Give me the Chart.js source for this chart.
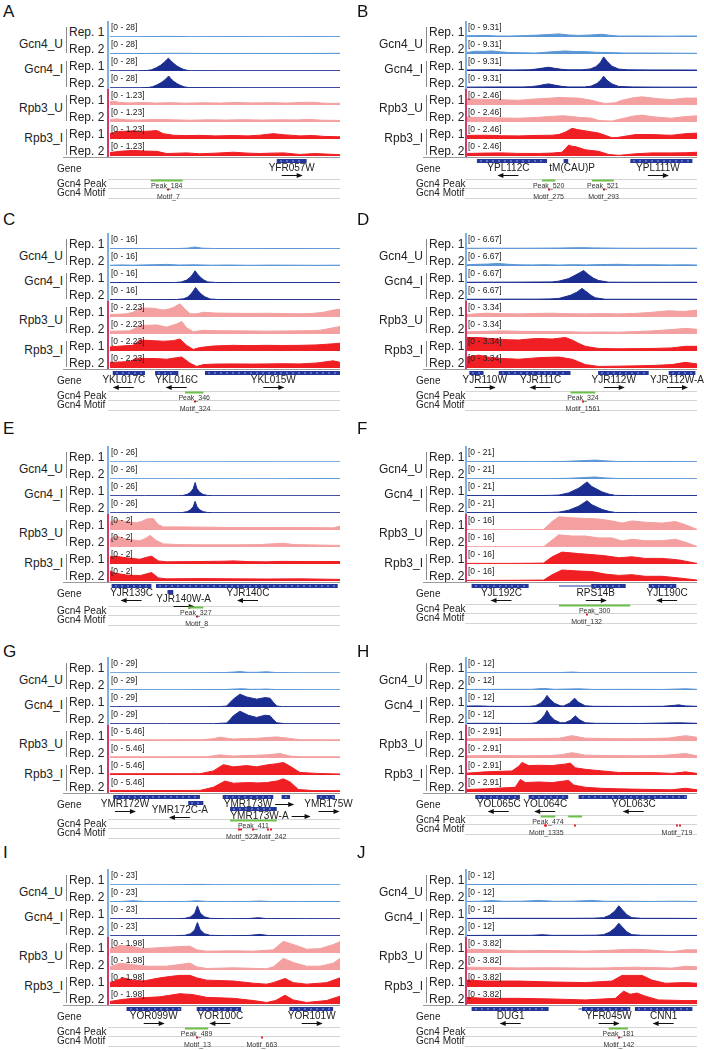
<!DOCTYPE html>
<html>
<head>
<meta charset="utf-8">
<script src="https://cdn.jsdelivr.net/npm/chart.js@4.4.1/dist/chart.umd.min.js"></script>
<style>
  html, body { margin: 0; padding: 0; background: #fff; }
  #page { position: relative; width: 704px; height: 1050px; overflow: hidden;
          font-family: "Liberation Sans", Arial, sans-serif; color: #222; }
  .t { position: absolute; white-space: nowrap; line-height: 1; }
  .ln { position: absolute; }
  canvas { position: absolute; }
</style>
</head>
<body>
<div id="page"></div>
<script>
// panels, tracks and axis ranges
const panelLetters = ['A', 'B', 'C', 'D', 'E', 'F', 'G', 'H', 'I', 'J'];
const groupNames = ['Gcn4_U', 'Gcn4_I', 'Rpb3_U', 'Rpb3_I'];
const repNames = ['Rep. 1', 'Rep. 2'];
const gcn4Max = [28, 9.31, 16, 6.67, 26, 21, 29, 12, 23, 12];
const rpb3Max = [1.23, 2.46, 2.23, 3.34, 2, 16, 5.46, 2.91, 1.98, 3.82];

// signal per panel: Gcn4_U r1, r2, Gcn4_I r1, r2, Rpb3_U r1, r2, Rpb3_I r1, r2  ([position %, value])
const sigA = [
  [[0,0.5],[12,0.6],[25,1.1],[35,0.6],[55,0.7],[75,0.6],[90,0.7],[100,0.6]],
  [[0,0.7],[15,0.9],[28,1.3],[45,0.8],[62,1.0],[80,0.9],[100,1.2]],
  [[0,0.4],[12,0.5],[16,0.8],[18,2],[20.3,6],[22,10],[23.5,15],[24.7,20],[25.4,22.5],[26.2,19],[27.5,14],[29,9],[30.5,5.5],[32,2.8],[33.5,1.2],[35,0.6],[50,0.5],[100,0.5]],
  [[0,0.4],[13,0.5],[16.5,0.9],[18.5,2.2],[20.5,5.5],[22.3,9.5],[23.8,14],[24.9,18.5],[25.5,21],[26.3,17],[27.6,12],[29.2,7.5],[30.8,4.2],[32.5,1.8],[34.5,0.7],[60,0.5],[100,0.5]],
  [[0,0.26],[2,0.29],[4,0.2],[8,0.16],[14,0.19],[20,0.15],[26,0.18],[33,0.14],[40,0.17],[48,0.15],[55,0.19],[62,0.16],[70,0.18],[77,0.15],[84,0.2],[88,0.21],[92,0.15],[96,0.12],[100,0.14]],
  [[0,0.2],[3,0.24],[7,0.17],[12,0.15],[20,0.2],[27,0.17],[35,0.14],[43,0.17],[50,0.15],[58,0.18],[66,0.15],[74,0.17],[81,0.16],[87,0.2],[92,0.14],[100,0.12]],
  [[0,0.41],[2.9,0.58],[7,0.6],[10,0.63],[14.5,0.58],[18,0.62],[20.3,0.65],[23.2,0.41],[27.5,0.29],[33,0.26],[39,0.28],[46,0.24],[53.6,0.27],[60,0.24],[65,0.29],[71,0.41],[75.4,0.33],[82.6,0.24],[88,0.27],[93,0.2],[100,0.17]],
  [[0,0.26],[4,0.36],[10,0.43],[15,0.38],[20.3,0.36],[24.6,0.19],[30,0.22],[33.3,0.24],[39,0.17],[46,0.22],[53.6,0.29],[60,0.22],[65,0.19],[70,0.22],[75.4,0.24],[82.6,0.12],[89,0.19],[94,0.15],[100,0.1]]
];
const sigB = [
  [[0,0.7],[8,0.9],[13,0.6],[18,0.55],[25,0.8],[31,1.1],[36,1.5],[40,1.8],[44,1.2],[48.5,0.9],[54,1.2],[58.7,1.6],[62,1.0],[66,0.55],[73,0.6],[80.4,0.55],[88,0.5],[95,0.6],[100,0.55]],
  [[0,0.9],[3.6,1.6],[7,1.5],[10.9,1.8],[14,1.3],[18,0.9],[24,0.7],[29.7,0.55],[34,1.0],[37,1.3],[42.8,1.8],[47,1.4],[51.4,1.4],[56,1.0],[60,0.9],[68.8,0.55],[80.4,0.55],[90,0.5],[100,0.4]],
  [[0,0.6],[10,0.7],[20,0.6],[27,0.7],[30,1.1],[33,1.7],[35.5,2.2],[38,1.6],[41,1.0],[44,0.7],[50,0.7],[53.6,1.2],[56,2.5],[58,5],[59.4,8.2],[61,5.5],[63,2.8],[66,1.1],[70,0.7],[80,0.6],[90,0.6],[100,0.55]],
  [[0,0.5],[12,0.6],[24,0.6],[28,0.8],[31,1.3],[33.5,2.0],[35.5,2.4],[38,1.7],[41,1.0],[44,0.6],[51,0.6],[54,1.1],[56.5,2.6],[58.3,4.8],[59.4,6.9],[60.8,4.6],[63,2.4],[66,0.9],[72,0.6],[85,0.5],[100,0.5]],
  [[0,0.96],[4,0.9],[8,0.87],[15,0.8],[22.5,0.72],[27,0.85],[31,0.96],[36,1.05],[40,1.16],[44,1.1],[48.5,1.06],[54.3,0.72],[57,0.45],[60,0.24],[62.5,0.3],[64.5,0.34],[67,0.7],[70.3,0.96],[73,1.15],[76,1.25],[80,1.1],[83.3,0.96],[89,0.82],[93,1.0],[95,1.06],[100,1.06]],
  [[0,0.72],[8,0.72],[15,0.62],[22.5,0.58],[31,0.72],[36,0.85],[42,0.96],[48.5,0.72],[54,0.6],[57.2,0.24],[60,0.18],[63,0.14],[66,0.4],[68.8,0.63],[72,0.9],[76,1.06],[80,0.85],[83.3,0.72],[89,0.58],[94,0.8],[100,0.96]],
  [[0,0.55],[8,0.58],[15,0.5],[22.5,0.48],[30,0.55],[37,0.58],[40,0.7],[42.8,1.06],[45.7,1.64],[48,1.45],[51.4,1.25],[54,1.1],[57.2,0.92],[60,0.58],[63,0.19],[65,0.22],[67.4,0.34],[73.2,0.68],[80.4,0.68],[86,0.6],[89,0.58],[95,0.82],[100,0.9]],
  [[0,0.39],[8,0.45],[15.2,0.48],[22,0.4],[31,0.39],[37,0.45],[41.3,0.58],[43,1.2],[44.2,1.69],[45.5,1.5],[47.1,1.45],[51.4,0.96],[57.2,0.72],[61.6,0.24],[66,0.1],[69,0.2],[73.2,0.34],[80.4,0.48],[89,0.48],[95,0.5],[100,0.58]]
];
const sigC = [
  [[0,0.4],[10,0.5],[20,0.4],[30,0.5],[34,0.9],[37,2.0],[40,0.8],[45,0.5],[60,0.4],[75,0.5],[90,0.4],[100,0.4]],
  [[0,0.7],[5,1.1],[10,0.8],[17,1.2],[24.6,1.6],[30,1.0],[37,1.2],[44,0.8],[52,1.0],[60,0.7],[70,0.9],[80,0.8],[90,0.7],[100,0.8]],
  [[0,0.4],[15,0.5],[28,0.5],[31,1.0],[33.2,2.8],[34.8,5.5],[36,8.8],[37,12.2],[38,9],[39.3,5.8],[40.8,3],[42.5,1.1],[46,0.5],[60,0.4],[80,0.4],[100,0.4]],
  [[0,0.4],[20,0.4],[29,0.5],[32,1.2],[33.8,3],[35.2,6],[36.3,9.5],[37.2,12.5],[38.3,9.2],[39.6,6],[41.2,3.2],[43.5,1.0],[47,0.5],[70,0.4],[100,0.4]],
  [[0,0.35],[4,0.4],[7.2,0.44],[10,0.66],[13,1.22],[16,1.25],[18.8,1.22],[23.2,0.96],[25.5,1.1],[27.5,1.31],[30.4,1.84],[32.6,1.09],[34.8,0.44],[37.7,0.44],[40.6,0.66],[46,0.55],[53.6,0.52],[60,0.5],[68,0.52],[75,0.48],[82.6,0.44],[88,0.5],[92.8,0.66],[97,0.96],[100,1.09]],
  [[0,0.39],[5,0.42],[8.7,0.44],[11,0.8],[13,1.18],[17,1.22],[20.3,1.27],[24.6,0.96],[27,1.2],[29,1.4],[31.2,1.75],[33.3,0.87],[36.2,0.31],[40.6,0.52],[47,0.45],[53.6,0.44],[62,0.42],[68,0.39],[76,0.42],[82.6,0.44],[88,0.48],[91.3,0.52],[96,0.8],[100,1.05]],
  [[0,0.57],[5,0.7],[10,0.79],[13,1.53],[18.8,1.44],[23.2,1.36],[27.5,1.44],[30.4,1.66],[33.3,0.79],[36.2,0.22],[39,0.48],[45,0.7],[53.6,0.79],[60,0.75],[68,0.79],[75,0.77],[82.6,0.79],[90,0.85],[97,1.0],[100,1.09]],
  [[0,0.79],[5,0.85],[8.7,0.92],[11.6,1.36],[16,1.33],[20.3,1.31],[24.6,1.22],[29,1.44],[31.2,1.53],[34.8,0.66],[37.7,0.22],[40.6,0.48],[46,0.55],[53.6,0.57],[62,0.55],[68,0.57],[75,0.6],[82.6,0.57],[90,0.7],[97,1.0],[100,0.79]]
];
const sigD = [
  [[0,0.3],[10,0.35],[20,0.3],[30,0.35],[40,0.4],[46,0.5],[50,0.55],[55,0.45],[65,0.35],[75,0.3],[85,0.35],[100,0.3]],
  [[0,0.5],[4,0.7],[9,0.8],[13.8,1.05],[18,0.7],[23,0.5],[28,0.45],[34,0.55],[40,0.4],[46,0.55],[52,0.45],[58,0.6],[66,0.7],[72,0.5],[80,0.55],[88,0.45],[95,0.5],[100,0.4]],
  [[0,0.3],[10,0.35],[20,0.35],[30,0.4],[37,0.45],[39.9,0.78],[44.2,1.83],[48.6,4.05],[50.7,5.23],[52.9,3.4],[55,2.0],[57.2,1.05],[61.6,0.35],[70,0.3],[85,0.3],[100,0.3]],
  [[0,0.3],[15,0.35],[30,0.35],[36,0.45],[39.9,0.65],[44.9,1.96],[47.8,3.27],[50,4.84],[52.2,3.27],[54,1.9],[55.8,0.92],[60.1,0.3],[75,0.3],[100,0.3]],
  [[0,0.52],[8,0.79],[15,0.7],[22.5,0.65],[30,0.75],[37,0.79],[44,0.7],[51.4,0.65],[58,0.72],[66,0.65],[73,0.75],[80.4,0.98],[87.7,1.31],[92,1.2],[95,1.18],[100,1.44]],
  [[0,0.46],[8,0.55],[15.2,0.65],[24,0.55],[37,0.52],[45,0.45],[51.4,0.39],[60,0.42],[66,0.39],[74,0.5],[80.4,0.65],[89.1,0.92],[95,1.18],[100,0.98]],
  [[0,2.82],[5.1,2.82],[9,2.65],[13.8,2.49],[18,2.35],[22.5,2.29],[27,2.5],[31.2,2.62],[37,2.49],[42.8,2.82],[45.7,2.29],[48.5,1.6],[51.4,0.98],[57.2,0.52],[66,0.46],[74,0.5],[80.4,0.52],[89.1,0.65],[95,0.98],[100,0.98]],
  [[0,2.29],[5.1,2.69],[9,2.3],[13.8,2.03],[22.5,1.83],[27,2.0],[31.2,2.16],[39.9,2.29],[45.7,1.83],[48.5,1.3],[51.4,0.72],[57.2,0.33],[66,0.39],[74,0.45],[80.4,0.52],[89.1,0.72],[95,1.18],[100,0.85]]
];
const sigE = [
  [[0,0.3],[20,0.35],[40,0.3],[60,0.4],[80,0.3],[100,0.35]],
  [[0,0.4],[15,0.5],[30,0.4],[45,0.5],[60,0.4],[75,0.5],[90,0.7],[94,0.9],[100,0.5]],
  [[0,0.4],[15,0.5],[30,0.5],[31.5,0.8],[33.5,2.5],[35,6],[36.2,12],[37,21.9],[37.8,12],[39,6],[40.5,2.5],[42.5,0.8],[45,0.5],[70,0.4],[100,0.4]],
  [[0,0.4],[15,0.5],[30,0.5],[31.5,0.8],[33.5,2.2],[35,5.2],[36.2,10.5],[37,18.9],[37.8,10.5],[39,5.2],[40.5,2.2],[42.5,0.8],[45,0.5],[70,0.4],[100,0.4]],
  [[0,0.98],[2.9,1.29],[5,1.15],[7.2,1.06],[11.6,0.9],[14,1.1],[15.9,1.37],[18.8,1.45],[21,0.67],[23.2,0.39],[31.9,0.39],[42,0.35],[53.6,0.31],[65,0.3],[75.4,0.31],[86,0.3],[97.1,0.27],[100,0.47]],
  [[0,0.98],[2.9,1.37],[5,1.15],[7.2,0.98],[13,0.78],[15.5,1.1],[17.4,1.45],[20.3,0.78],[23.2,0.39],[30,0.3],[39,0.27],[53.6,0.27],[65,0.3],[75.4,0.47],[80,0.3],[90,0.25],[100,0.2]],
  [[0,0.9],[2.2,0.98],[7.2,0.78],[13,0.59],[16,0.85],[18.1,0.98],[21,0.39],[24.6,0.27],[39,0.31],[50,0.35],[53.6,0.39],[60,0.3],[68,0.27],[75,0.33],[82.6,0.31],[90,0.3],[100,0.31]],
  [[0,1.25],[2.2,0.98],[7.2,0.75],[13,0.67],[16,0.9],[18.1,1.06],[21,0.39],[24.6,0.27],[40,0.3],[53.6,0.27],[68,0.25],[82.6,0.27],[100,0.2]]
];
const sigF = [
  [[0,0.4],[15,0.5],[30,0.4],[40,0.6],[46,1.2],[52,2.0],[56,2.5],[60,1.5],[65,0.7],[75,0.5],[85,0.6],[100,0.4]],
  [[0,0.4],[20,0.5],[35,0.5],[44,0.9],[50,1.8],[55.8,2.6],[60,1.4],[66,0.6],[80,0.5],[100,0.4]],
  [[0,0.5],[15,0.5],[30,0.6],[36,0.8],[39.9,1.2],[44.2,4.1],[48.6,10.3],[52.2,18.5],[54.3,12.4],[58.7,5.4],[62,2.2],[64.5,0.8],[72,0.5],[100,0.5]],
  [[0,0.5],[20,0.5],[36,0.7],[39.9,1.1],[44.2,3.6],[48.6,9],[52.2,16.1],[54.3,10.8],[58.7,4.7],[62,1.9],[64.5,0.7],[75,0.5],[100,0.5]],
  [[0,0.3],[20,0.3],[33.3,0.6],[37,8.5],[39.9,13.2],[45.7,12.2],[51.4,11.6],[57.2,11],[63,9.1],[67.4,6.9],[71.7,9.1],[77.5,7.8],[84.8,6.9],[90.6,8.5],[95,5.3],[100,0.6]],
  [[0,0.3],[20,0.3],[33.3,0.3],[37,6.9],[39.9,12.2],[45.7,11],[51.4,11],[57.2,9.1],[63,9.1],[67.4,6],[71.7,7.8],[77.5,6.3],[84.8,6.3],[90.6,7.8],[95,4.7],[100,0.6]],
  [[0,0.6],[20,0.6],[33.3,0.9],[37,7.2],[41.3,11.9],[48.6,10.4],[54.3,9.4],[60.1,8.2],[66,6.3],[71.7,7.2],[77.5,5.6],[84.8,5.6],[92,4.1],[100,0.6]],
  [[0,0.6],[20,0.7],[33.3,0.9],[37,6.3],[41.3,11],[48.6,10],[54.3,9.4],[60.1,6.9],[66,5.6],[71.7,6.3],[77.5,4.7],[84.8,4.7],[92,3.1],[100,0.9]]
];
const sigG = [
  [[0,0.4],[20,0.5],[40,0.5],[50,0.8],[54,1.8],[56.5,2.5],[60,1.2],[64,1.3],[68,2.2],[72,0.9],[80,0.5],[100,0.4]],
  [[0,0.5],[15,0.6],[30,0.5],[42,0.7],[50,0.9],[55,1.9],[57.5,2.3],[61,1.2],[65,1.3],[68,1.7],[72,0.8],[85,0.6],[100,0.5]],
  [[0,0.5],[20,0.5],[40,0.6],[48,0.8],[50.7,1.7],[52,7.4],[53.6,14.2],[56.5,23.3],[59.4,18.2],[63.8,14.2],[67.4,17],[69.6,15.9],[71,8.5],[72.5,1.7],[75,0.6],[100,0.5]],
  [[0,0.5],[25,0.5],[45,0.6],[50.7,1.7],[52.2,8],[53.6,14.8],[56.5,23.3],[60.1,15.9],[63.8,11.9],[67.4,15.9],[69.6,14.8],[71,8],[72.5,2.3],[76,0.6],[100,0.5]],
  [[0,0.43],[20,0.4],[40,0.45],[45,0.8],[47.8,1.28],[53.6,0.64],[59.4,0.86],[64,0.9],[68.1,1.18],[72.5,1.39],[78.3,0.86],[82.6,0.43],[100,0.4]],
  [[0,0.43],[25,0.4],[42,0.45],[47.8,1.07],[53.6,0.64],[59.4,0.86],[64,0.9],[68.1,1.07],[73.9,1.5],[78.3,0.64],[83,0.43],[100,0.4]],
  [[0,0.43],[20,0.45],[39.1,0.43],[44.9,1.39],[49.3,3.53],[53.6,2.78],[59.4,3.21],[63.8,2.78],[68.1,3.43],[72.5,3.85],[75.4,4.28],[78.3,3.0],[82.6,0.86],[89.9,0.54],[100,0.32]],
  [[0,0.54],[20,0.5],[39.1,0.54],[44.9,1.6],[50,3.75],[53.6,3.0],[56,3.1],[60.9,3.21],[64,3.1],[68.1,3.21],[72.5,3.75],[75.4,4.5],[78.3,3.43],[81.9,0.86],[88,0.5],[100,0.43]]
];
const sigH = [
  [[0,0.25],[20,0.3],[40,0.3],[45.7,0.7],[50,0.3],[70,0.3],[90,0.35],[100,0.3]],
  [[0,0.4],[15,0.5],[28,0.5],[33.3,1.2],[38,0.5],[48.6,0.9],[55,0.4],[70,0.5],[85,0.4],[95,0.9],[100,0.5]],
  [[0,0.7],[5,0.8],[10,0.5],[20,0.4],[27,0.5],[29.7,0.9],[32,2.8],[33.8,6],[34.8,8.7],[36,6],[38,2.8],[40.6,0.9],[42,0.8],[44.5,2.8],[46.8,6.6],[48.5,3.5],[51.4,0.9],[55,0.5],[70,0.4],[85,0.5],[90,1.2],[92,1.6],[95,0.8],[100,0.5]],
  [[0,0.5],[10,0.5],[22,0.4],[28,0.5],[30,1.0],[32.2,3.5],[33.8,7],[34.8,10.1],[36,6.5],[38,3],[40.6,1.0],[42.5,0.9],[45,2.8],[47.1,6.1],[48.8,3.3],[51.4,0.9],[56,0.5],[75,0.4],[92,0.9],[100,0.5]],
  [[0,0.4],[10,0.45],[20,0.4],[30,0.45],[40,0.5],[45.7,0.97],[51.4,0.51],[60,0.45],[70,0.4],[80,0.45],[88,0.55],[95,0.97],[100,0.68]],
  [[0,0.4],[12,0.45],[24,0.4],[36,0.45],[41,0.6],[45.7,0.97],[51.4,0.51],[62,0.45],[75,0.4],[86,0.5],[95,0.8],[100,0.4]],
  [[0,0.34],[8,0.57],[19.6,0.74],[22.5,1.6],[23.9,2.28],[26.8,1.71],[31.2,1.77],[37,1.71],[42.8,2.0],[44.9,2.17],[47.1,1.31],[51.4,1.03],[58.7,0.74],[66,0.46],[80.4,0.46],[89.1,0.29],[95,0.57],[100,0.29]],
  [[0,0.46],[8,0.57],[21,0.86],[23.2,2.28],[25.4,1.71],[31.2,1.83],[37,1.71],[44.2,2.11],[46.4,1.26],[51.4,0.86],[58,0.68],[66,0.57],[80.4,0.46],[89.1,0.4],[95,0.68],[100,0.4]]
];
const sigI = [
  [[0,0.4],[15,0.4],[30,0.5],[39,0.9],[45,0.5],[60,0.4],[80,0.5],[100,0.4]],
  [[0,0.6],[5,0.8],[10,1.8],[15,0.8],[25,0.6],[33,0.8],[37.7,1.8],[42,0.8],[52,0.6],[60,0.8],[65,1.4],[70,0.7],[82,0.6],[92,0.8],[100,0.6]],
  [[0,0.4],[15,0.5],[30,0.5],[32.6,0.9],[35,3],[36.8,8],[38,18.9],[39.2,8.5],[41,3.2],[43.5,0.9],[50,0.5],[60,0.6],[64.5,1.8],[68,0.6],[85,0.5],[100,0.4]],
  [[0,0.4],[12,0.5],[28,0.5],[32.6,1.0],[35,3.2],[36.8,8.5],[38,19.4],[39.2,9],[41,3.4],[43.5,1.0],[50,0.5],[60,0.7],[65.2,2.3],[69,0.6],[85,0.5],[100,0.4]],
  [[0,0.54],[4.3,0.93],[10.1,0.78],[14.5,0.54],[21.7,0.66],[29,0.78],[34.8,0.85],[37.7,0.39],[42,0.23],[53.6,0.27],[62.3,0.23],[71,0.39],[75.4,1.44],[79.7,1.05],[85.5,0.47],[91.3,0.54],[97.1,1.05],[100,1.4]],
  [[0,0.39],[4.3,0.85],[10.1,0.66],[15.9,0.47],[24.6,0.47],[34.8,0.85],[37.7,0.39],[42,0.19],[53.6,0.27],[68,0.16],[71,0.39],[75.4,1.44],[79.7,0.93],[85.5,0.47],[91.3,0.47],[97.1,0.85],[100,1.44]],
  [[0,0.54],[5.8,1.13],[10.1,0.85],[14.5,0.74],[21.7,1.13],[26,1.3],[30.4,1.44],[34.8,1.44],[37.7,1.13],[42,0.85],[53.6,0.74],[62.3,0.47],[68.1,0.35],[71,0.54],[76.1,1.05],[79.7,0.54],[85.5,0.35],[94.2,0.54],[100,1.13]],
  [[0,0.31],[5,0.55],[10.1,0.7],[21.7,0.89],[30.4,1.28],[36.2,1.16],[42,0.82],[53.6,0.7],[62.3,0.43],[68.1,0.19],[72,0.43],[76.1,1.09],[79.7,0.5],[85.5,0.19],[94.2,0.43],[100,0.97]]
];
const sigJ = [
  [[0,0.3],[10,0.4],[20,0.3],[30,0.45],[40,0.3],[50,0.4],[60,0.3],[70,0.45],[80,0.3],[90,0.4],[100,0.3]],
  [[0,0.4],[5,0.5],[10.9,1.1],[16,0.5],[24,0.6],[31.2,1.2],[38,0.5],[46,0.6],[54.3,1.2],[60,0.5],[70,0.6],[80,0.4],[90,0.6],[100,0.4]],
  [[0,0.4],[15,0.5],[30,0.5],[45,0.5],[55,0.6],[59.4,1.0],[62,2.8],[64.3,6],[66,9.9],[67.5,7],[69.5,3.2],[71.7,1.0],[76,0.5],[90,0.5],[100,0.4]],
  [[0,0.4],[15,0.5],[28,0.5],[32.6,0.95],[37,0.5],[50,0.5],[56,0.6],[59.4,1.0],[62,2.9],[64.3,6],[66,9.6],[67.5,6.8],[69.5,3.1],[71.7,1.0],[76,0.5],[100,0.4]],
  [[0,0.9],[10,0.8],[22.5,0.52],[35,0.6],[51.4,0.45],[60,0.6],[66,0.75],[73.2,0.9],[80,0.7],[89.1,0.3],[95,0.75],[100,0.75]],
  [[0,0.67],[10,0.6],[22.5,0.5],[35,0.55],[51.4,0.45],[60,0.5],[66,0.6],[73.2,0.67],[80,0.6],[89.1,0.45],[95,0.9],[100,0.75]],
  [[0,1.65],[8,1.42],[22.5,1.42],[37,1.2],[51.4,1.05],[63,1.42],[67.4,2.77],[76.1,2.77],[80.4,1.65],[86.2,0.9],[95,1.05],[100,0.9]],
  [[0,1.57],[8,1.35],[22.5,1.35],[37,1.2],[51.4,0.97],[64.5,1.35],[68.1,3.07],[71,2.32],[73.9,2.62],[77.5,1.87],[83.3,0.97],[95,0.82],[100,0.82]]
];

// genes: [start, end, thickStart, name, strand, lane, nameAt, arrowBesideName]
const genesA = [[72.5,85.5,72.5,'YFR057W','+',0,79,false]];
const genesB = [[4.3,34.8,4.3,'YPL112C','-',0,18,false],[42,44,42,'tM(CAU)P','',0,45.7,false],[71,98,71,'YPL111W','+',0,83,false]];
const genesC = [[1.2,15.2,1.2,'YKL017C','-',0,6,false],[19.6,29.7,19.6,'YKL016C','-',0,29,false],[41.3,100,41.3,'YKL015W','+',0,71,false]];
const genesD = [[1,7.2,1,'YJR110W','+',0,7.7,false],[13.8,45,13.8,'YJR111C','-',0,32,false],[57,79,57,'YJR112W','+',0,63.8,false],[87.7,99.3,87.7,'YJR112W-A','+',0,91.3,false]];
const genesE = [[0.7,18,0.7,'YJR139C','-',0,9.4,false],[20,99,20,'YJR140C','-',0,60,false],[25,27.5,25,'YJR140W-A','+',1,32,false]];
const genesF = [[2,26.8,2,'YJL192C','-',0,15,false],[40,69,54,'RPS14B','+',0,56,false],[79,91,79,'YJL190C','-',0,87,false]];
const genesG = [[1.4,39.1,1.4,'YMR172W','+',0,6.5,false],[34,40.6,34,'YMR172C-A','-',1,30.4,false],[49,71,49,'YMR173W','+',0,60,true],[74.6,78.3,74.6,'','',0,0,false],[52.2,72.5,52.2,'YMR173W-A','+',2,65,true],[89.9,97.8,89.9,'YMR175W','+',0,95,false]];
const genesH = [[3.6,23,3.6,'YOL065C','-',0,13.8,false],[26.8,44,26.8,'YOL064C','-',0,34,false],[48.5,95.6,48.5,'YOL063C','-',0,72.5,false]];
const genesI = [[7.2,31,7.2,'YOR099W','+',0,19,false],[37.7,57,37.7,'YOR100C','-',0,48,false],[78,97,78,'YOR101W','+',0,87.7,false]];
const genesJ = [[2,35.5,2,'DUG1','-',0,19,false],[48.5,71,50,'YFR045W','+',0,61.6,false],[73,98,73,'CNN1','-',0,85.5,false]];

// Gcn4 peaks [start, end, name] and motifs [position, name]
const peaksA = [[17.7,31.6,'Peak_184']];
const peaksB = [[32.6,38.4,'Peak_520'],[54.3,63.8,'Peak_521']];
const peaksC = [[32.6,40.6,'Peak_346']];
const peaksD = [[45,55.8,'Peak_324']];
const peaksE = [[34,40.6,'Peak_327']];
const peaksF = [[40,71,'Peak_300']];
const peaksG = [[52.2,72.5,'Peak_411']];
const peaksH = [[32,38.4,'Peak_474'],[44,50,'']];
const peaksI = [[32.6,42.7,'Peak_489']];
const peaksJ = [[61.6,70,'Peak_181']];

const motifsA = [[25.4,'Motif_7']];
const motifsB = [[35.5,'Motif_275'],[59.4,'Motif_293']];
const motifsC = [[37,'Motif_324']];
const motifsD = [[50.4,'Motif_1561']];
const motifsE = [[37.7,'Motif_8']];
const motifsF = [[52,'Motif_132']];
const motifsG = [[56.2,''],[57.1,'Motif_522'],[62.3,''],[68.6,''],[70,'Motif_242']];
const motifsH = [[33.8,''],[34.5,'Motif_1335'],[47.1,''],[91.3,'Motif_719'],[92.8,'']];
const motifsI = [[38,'Motif_13'],[66,'Motif_663']];
const motifsJ = [[66,'Motif_142']];

const signals = [sigA, sigB, sigC, sigD, sigE, sigF, sigG, sigH, sigI, sigJ];
const genes = [genesA, genesB, genesC, genesD, genesE, genesF, genesG, genesH, genesI, genesJ];
const peaks = [peaksA, peaksB, peaksC, peaksD, peaksE, peaksF, peaksG, peaksH, peaksI, peaksJ];
const motifs = [motifsA, motifsB, motifsC, motifsD, motifsE, motifsF, motifsG, motifsH, motifsI, motifsJ];

// layout
const COLS = [
  { grp: 63, brk: 66, rep: 69, bar: 107, track: 110, lab: 57, letter: 3 },
  { grp: 423, brk: 426, rep: 429, bar: 465, track: 467, lab: 416, letter: 357 }
];
const ROW_TOP = [21, 233, 446, 657, 869];
const LETTER_TOP = [5, 213, 422, 645, 846];
const TRACK_W = 230, TRACK_H = 17;
const GROUP_DY = [23, 14, 19, 15];
const TRACK_COLORS = ['#5a96d6', '#5a96d6', '#1b2d91', '#1b2d91', '#f4a0a0', '#f4a0a0', '#ef1f24', '#ef1f24'];
const GENE_COLOR = '#24369a';
const FONT = '"Liberation Sans", Arial, sans-serif';

const page = document.getElementById('page');

function text(str, x, y, size, align, color) {
  const d = document.createElement('div');
  d.className = 't';
  d.textContent = str;
  d.style.left = x + 'px';
  d.style.top = y + 'px';
  d.style.fontSize = size + 'px';
  if (color) d.style.color = color;
  const tx = align === 'center' ? '-50%' : (align === 'right' ? '-100%' : '0');
  d.style.transform = 'translate(' + tx + ',-50%)';
  page.appendChild(d);
}

function line(x, y, w, h, color) {
  const d = document.createElement('div');
  d.className = 'ln';
  d.style.left = x + 'px';
  d.style.top = y + 'px';
  d.style.width = w + 'px';
  d.style.height = h + 'px';
  d.style.background = color;
  page.appendChild(d);
}

function makeCanvas(x, y, w, h) {
  const c = document.createElement('canvas');
  c.width = w;
  c.height = h;
  c.style.left = x + 'px';
  c.style.top = y + 'px';
  page.appendChild(c);
  return c;
}

function trackChart(x, y, series, max, color) {
  const c = makeCanvas(x, y, TRACK_W, TRACK_H);
  new Chart(c, {
    type: 'line',
    data: {
      datasets: [{
        data: series.map(p => ({ x: p[0], y: p[1] })),
        fill: 'origin',
        backgroundColor: color,
        borderColor: color,
        borderWidth: 1,
        pointRadius: 0,
        tension: 0
      }]
    },
    options: {
      responsive: false, animation: false, devicePixelRatio: 1, events: [],
      layout: { padding: { top: 0, bottom: 1, left: 0, right: 0 } },
      plugins: { legend: { display: false }, tooltip: { enabled: false } },
      scales: {
        x: { type: 'linear', min: 0, max: 100, display: false },
        y: { min: 0, max: max, display: false }
      }
    }
  });
}

function drawArrow(ctx, x0, x1, y, dir) {
  ctx.strokeStyle = '#111';
  ctx.lineWidth = 1;
  ctx.beginPath();
  ctx.moveTo(x0, y + 0.5);
  ctx.lineTo(x1, y + 0.5);
  ctx.stroke();
  const tip = dir > 0 ? x1 : x0;
  ctx.fillStyle = '#111';
  ctx.beginPath();
  ctx.moveTo(tip + dir, y + 0.5);
  ctx.lineTo(tip - dir * 5, y - 2);
  ctx.lineTo(tip - dir * 5, y + 3);
  ctx.closePath();
  ctx.fill();
}

function footerChart(col, top, geneH, gl, pl, ml) {
  const padL = 12, padR = 7;
  const left = COLS[col].track - padL;
  const c = makeCanvas(left, top, TRACK_W + padL + padR, 48);
  const peakTop = geneH, motifTop = geneH + 9;
  const annot = {
    id: 'annot',
    afterDraw(chart) {
      const ctx = chart.ctx, xs = chart.scales.x;
      ctx.save();
      ctx.font = '10px ' + FONT;
      gl.forEach(g => {
        const by = 2 + g[5] * 6;
        const x0 = xs.getPixelForValue(g[0]), xt = xs.getPixelForValue(g[2]), x1 = xs.getPixelForValue(g[1]);
        ctx.fillStyle = GENE_COLOR;
        if (xt > x0) ctx.fillRect(x0, by + 1.5, xt - x0, 1);
        ctx.fillRect(xt, by, x1 - xt, 4);
        ctx.fillStyle = '#8ea3e8';
        for (let p = xt + 3; p < x1 - 3; p += 6) ctx.fillRect(Math.round(p), by + 1.5, 2, 1);
        if (g[4]) {
          const dir = g[4] === '+' ? 1 : -1;
          const nx = xs.getPixelForValue(g[6]);
          if (g[7]) {
            const w = ctx.measureText(g[3]).width;
            const ax = nx + w / 2 + 3;
            drawArrow(ctx, ax, ax + 18, by + 9, dir);
          } else {
            drawArrow(ctx, nx - 10, nx + 10, by + 16, dir);
          }
        }
      });
      ctx.fillStyle = '#6cc04a';
      pl.forEach(p => {
        const a = xs.getPixelForValue(p[0]), b = xs.getPixelForValue(p[1]);
        ctx.fillRect(a, peakTop + 0.5, b - a, 2);
      });
      ctx.fillStyle = '#e8202a';
      ml.forEach(m => {
        const a = xs.getPixelForValue(m[0]);
        ctx.fillRect(Math.round(a) - 1, motifTop + 0.5, 2, 2);
      });
      ctx.restore();
    }
  };
  const chart = new Chart(c, {
    type: 'line',
    data: { datasets: [] },
    options: {
      responsive: false, animation: false, devicePixelRatio: 1, events: [],
      layout: { padding: { left: padL, right: padR, top: 0, bottom: 0 } },
      plugins: { legend: { display: false }, tooltip: { enabled: false } },
      scales: {
        x: { type: 'linear', min: 0, max: 100, display: false },
        y: { min: 0, max: 1, display: false }
      }
    },
    plugins: [annot]
  });
  const xs = chart.scales.x;
  gl.forEach(g => {
    if (g[3]) text(g[3], left + xs.getPixelForValue(g[6]), top + 2 + g[5] * 6 + 9, 10, 'center');
  });
  pl.forEach(p => {
    if (p[2]) text(p[2], left + xs.getPixelForValue((p[0] + p[1]) / 2), top + peakTop + 5.5, 7, 'center', '#333');
  });
  ml.forEach(m => {
    if (m[1]) text(m[1], left + xs.getPixelForValue(m[0]), top + motifTop + 8, 7, 'center', '#333');
  });
}

panelLetters.forEach((letter, i) => {
  const col = i % 2, row = Math.floor(i / 2);
  const L = COLS[col];
  const top = ROW_TOP[row];
  text(letter, L.letter, LETTER_TOP[row] + 6, 17, 'left', '#111');

  // coloured side bar
  line(L.bar, top, 2, 4 * TRACK_H, '#7fb0e4');
  line(L.bar, top + 4 * TRACK_H, 2, 4 * TRACK_H, '#d2386a');

  // group labels and brackets
  groupNames.forEach((g, k) => {
    const gt = top + k * 2 * TRACK_H;
    text(g, L.grp, gt + GROUP_DY[k], 12, 'right');
    line(L.brk, gt + 6, 1, 26, '#8a8a8a');
  });

  // tracks
  signals[i].forEach((series, t) => {
    const ty = top + t * TRACK_H;
    const max = t < 4 ? gcn4Max[i] : rpb3Max[i];
    trackChart(L.track, ty, series, max, TRACK_COLORS[t]);
    text(repNames[t % 2], L.rep, ty + TRACK_H / 2 + 2, 12, 'left');
    text('[0 - ' + max + ']', L.track + 1, ty + 5.5, 8.5, 'left', '#222');
  });

  // annotation tracks
  const ft = top + 8 * TRACK_H;
  const maxLane = Math.max(...genes[i].map(g => g[5]));
  const geneH = 22 + 2 * maxLane;
  line(L.grp, ft, L.track + TRACK_W - L.grp, 1, '#9a9a9a');
  line(L.track - 2, ft + geneH, TRACK_W + 2, 1, '#d4d4d4');
  line(L.track - 2, ft + geneH + 9, TRACK_W + 2, 1, '#d4d4d4');
  line(L.track - 2, ft + geneH + 19, TRACK_W + 2, 1, '#d4d4d4');
  text('Gene', L.lab, ft + 12, 10, 'left');
  text('Gcn4 Peak', L.lab, ft + geneH + 4.5, 10, 'left');
  text('Gcn4 Motif', L.lab, ft + geneH + 14, 10, 'left');
  footerChart(col, ft, geneH, genes[i], peaks[i], motifs[i]);
});
</script>
</body>
</html>
